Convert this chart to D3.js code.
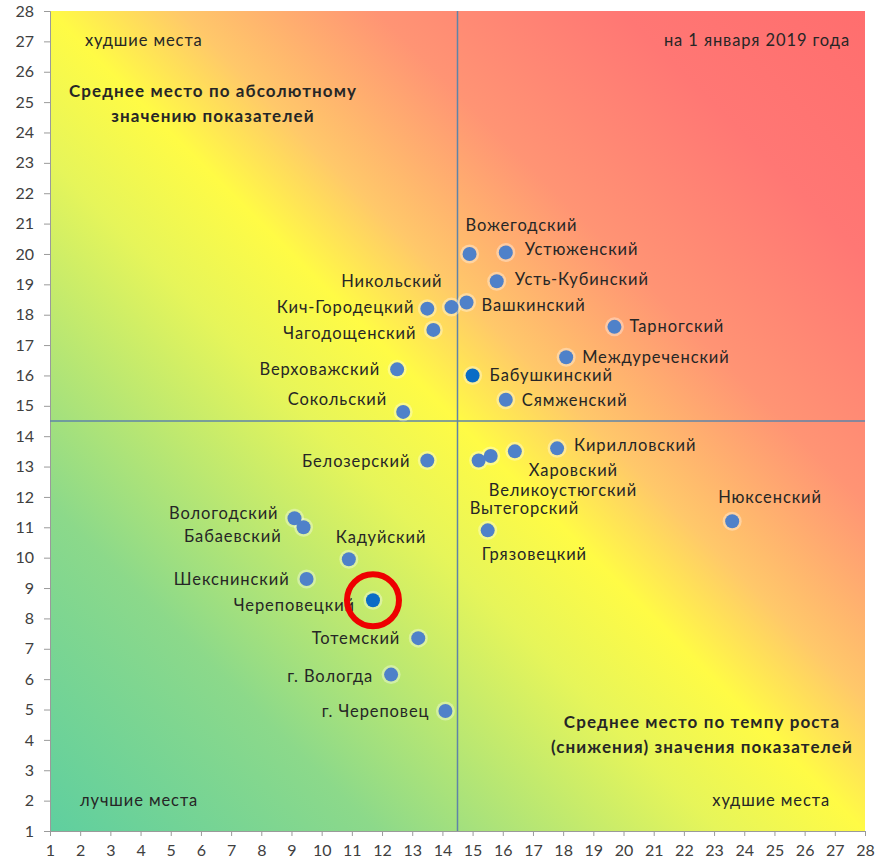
<!DOCTYPE html>
<html>
<head>
<meta charset="utf-8">
<script src="https://cdn.jsdelivr.net/npm/d3@7"></script>
<style>
  body { margin: 0; background: #fff; }
  text { font-family: Lato, "Open Sans", sans-serif; }
</style>
</head>
<body>
<svg id="chart" width="875" height="866"></svg>
<script>
// districts: [growth rate place, absolute value place]
const names = ["Вожегодский", "Устюженский", "Усть-Кубинский", "Никольский", "Кич-Городецкий",
  "Вашкинский", "Чагодощенский", "Тарногский", "Междуреченский", "Верховажский",
  "Бабушкинский", "Сямженский", "Сокольский", "Белозерский", "Кирилловский",
  "Харовский", "Великоустюгский", "Вытегорский", "Грязовецкий", "Нюксенский",
  "Вологодский", "Бабаевский", "Кадуйский", "Шекснинский", "Череповецкий",
  "Тотемский", "г. Вологда", "г. Череповец"];
const xVals = [14.9, 16.1, 15.8, 14.3, 13.5, 14.8, 13.7, 19.7, 18.1, 12.5,
  15.0, 16.1, 12.7, 13.5, 17.8, 16.4, 15.6, 15.2, 15.5, 23.6,
  9.1, 9.4, 10.9, 9.5, 11.7, 13.2, 12.3, 14.1];
const yVals = [20.0, 20.05, 19.1, 18.25, 18.2, 18.4, 17.5, 17.6, 16.6, 16.2,
  16.0, 15.2, 14.8, 13.2, 13.6, 13.5, 13.35, 13.2, 10.9, 11.2,
  11.3, 11.0, 9.95, 9.3, 8.6, 7.35, 6.15, 4.95];
const highlighted = ["Бабушкинский", "Череповецкий"];
const marked = "Череповецкий";

const ticks = d3.range(1, 29);
const split = 14.5;

// label placement: [anchor, dx, dy]
const labelPos = [["start", -4, -29], ["start", 19, -3], ["start", 18, -2], ["end", -9, -26], ["end", -13, -1],
  ["start", 15, 3], ["end", -17, 3], ["start", 15, -1], ["start", 16, 0], ["end", -17, 0],
  ["start", 17, 0], ["start", 16, 0], ["end", -16, -13], ["end", -17, 1], ["start", 17, -3],
  ["start", 14, 19], ["start", -2, 34], ["start", -9, 48], ["start", -6, 24], ["start", -14, -24],
  ["end", -16, -5], ["end", -22, 9], ["start", -13, -22], ["end", -17, 0], ["end", -18, 5],
  ["end", -18, 0], ["end", -18, 2], ["end", -16, 0]];

const svg = d3.select("#chart");
const x = d3.scaleLinear().domain([1, 28]).range([50, 865]);
const y = d3.scaleLinear().domain([1, 28]).range([831, 11]);

const defs = svg.append("defs");
const grad = defs.append("linearGradient")
  .attr("id", "bg")
  .attr("x1", 0).attr("y1", 1).attr("x2", 1).attr("y2", 0);
grad.append("stop").attr("offset", 0).attr("stop-color", "#5fcf9f");
grad.append("stop").attr("offset", 0.2).attr("stop-color", "#8cd98a");
grad.append("stop").attr("offset", 0.41).attr("stop-color", "#e6f55a");
grad.append("stop").attr("offset", 0.5).attr("stop-color", "#fffb45");
grad.append("stop").attr("offset", 0.58).attr("stop-color", "#ffc86a");
grad.append("stop").attr("offset", 0.7).attr("stop-color", "#ff9474");
grad.append("stop").attr("offset", 0.85).attr("stop-color", "#ff7774");
grad.append("stop").attr("offset", 1).attr("stop-color", "#ff6e6e");

svg.append("rect")
  .attr("x", x(1)).attr("y", y(28))
  .attr("width", x(28) - x(1)).attr("height", y(1) - y(28))
  .attr("fill", "url(#bg)");

// axes
const xAxis = d3.axisBottom(x).tickValues(ticks).tickSize(5).tickFormat(d3.format("d"));
const yAxis = d3.axisLeft(y).tickValues(ticks).tickSize(6).tickFormat(d3.format("d"));

const gx = svg.append("g").attr("transform", `translate(0,${y(1)})`).call(xAxis);
const gy = svg.append("g").attr("transform", `translate(${x(1)},0)`).call(yAxis);
[gx, gy].forEach(g => {
  g.select(".domain").attr("stroke", "#9a9a9a");
  g.selectAll(".tick line").attr("stroke", "#9a9a9a");
  g.selectAll(".tick text").attr("fill", "#404040").style("font-size", "16px")
    .style("font-family", "Lato, 'Open Sans', sans-serif");
});
gx.selectAll(".tick text").attr("dy", "1.05em");
gy.selectAll(".tick text").attr("x", -16);

// quadrant lines
svg.append("line")
  .attr("x1", x(split)).attr("x2", x(split))
  .attr("y1", y(28)).attr("y2", y(1))
  .attr("stroke", "#5f84a8").attr("stroke-width", 1.5);
svg.append("line")
  .attr("x1", x(1)).attr("x2", x(28))
  .attr("y1", y(split)).attr("y2", y(split))
  .attr("stroke", "#5f84a8").attr("stroke-width", 1.5);

// corner notes
const notes = svg.append("g").attr("fill", "#262626")
  .style("font-size", "16.5px").style("letter-spacing", "0.9px");
notes.append("text").attr("x", 85).attr("y", 46).text("худшие места");
notes.append("text").attr("x", 850).attr("y", 46).attr("text-anchor", "end").text("на 1 января 2019 года");
notes.append("text").attr("x", 80).attr("y", 806).text("лучшие места");
notes.append("text").attr("x", 830).attr("y", 806).attr("text-anchor", "end").text("худшие места");

const bold1 = notes.append("text").attr("text-anchor", "middle")
  .style("font-weight", "bold").style("font-size", "17px").style("letter-spacing", "1.1px");
bold1.append("tspan").attr("x", 213).attr("y", 97).text("Среднее место по абсолютному");
bold1.append("tspan").attr("x", 213).attr("y", 122).text("значению показателей");
const bold2 = notes.append("text").attr("text-anchor", "middle")
  .style("font-weight", "bold").style("font-size", "17px").style("letter-spacing", "1.1px");
bold2.append("tspan").attr("x", 702).attr("y", 728).text("Среднее место по темпу роста");
bold2.append("tspan").attr("x", 702).attr("y", 753).text("(снижения) значения показателей");

// points
const data = names.map((n, i) => ({ name: n, x: xVals[i], y: yVals[i], lp: labelPos[i] }));

const pts = svg.append("g");
pts.selectAll("circle.halo")
  .data(data).enter()
  .append("circle")
  .attr("class", "halo")
  .attr("cx", d => x(d.x)).attr("cy", d => y(d.y))
  .attr("r", 9.5)
  .attr("fill", "#ffffff").attr("opacity", 0.35);
pts.selectAll("circle.dot")
  .data(data).enter()
  .append("circle")
  .attr("class", "dot")
  .attr("cx", d => x(d.x)).attr("cy", d => y(d.y))
  .attr("r", 7)
  .attr("fill", d => highlighted.includes(d.name) ? "#0a6cc6" : "#4f81c9");

svg.append("g").selectAll("text")
  .data(data).enter()
  .append("text")
  .attr("x", d => x(d.x) + d.lp[1])
  .attr("y", d => y(d.y) + d.lp[2])
  .attr("dy", "0.35em")
  .attr("text-anchor", d => d.lp[0])
  .attr("fill", "#262626")
  .style("font-size", "16.5px")
  .style("letter-spacing", "0.9px")
  .text(d => d.name);

// red ring around the marked district
const m = data.find(d => d.name === marked);
svg.append("circle")
  .attr("cx", x(m.x)).attr("cy", y(m.y))
  .attr("r", 26)
  .attr("fill", "none")
  .attr("stroke", "#ee0000").attr("stroke-width", 6);
</script>
</body>
</html>
